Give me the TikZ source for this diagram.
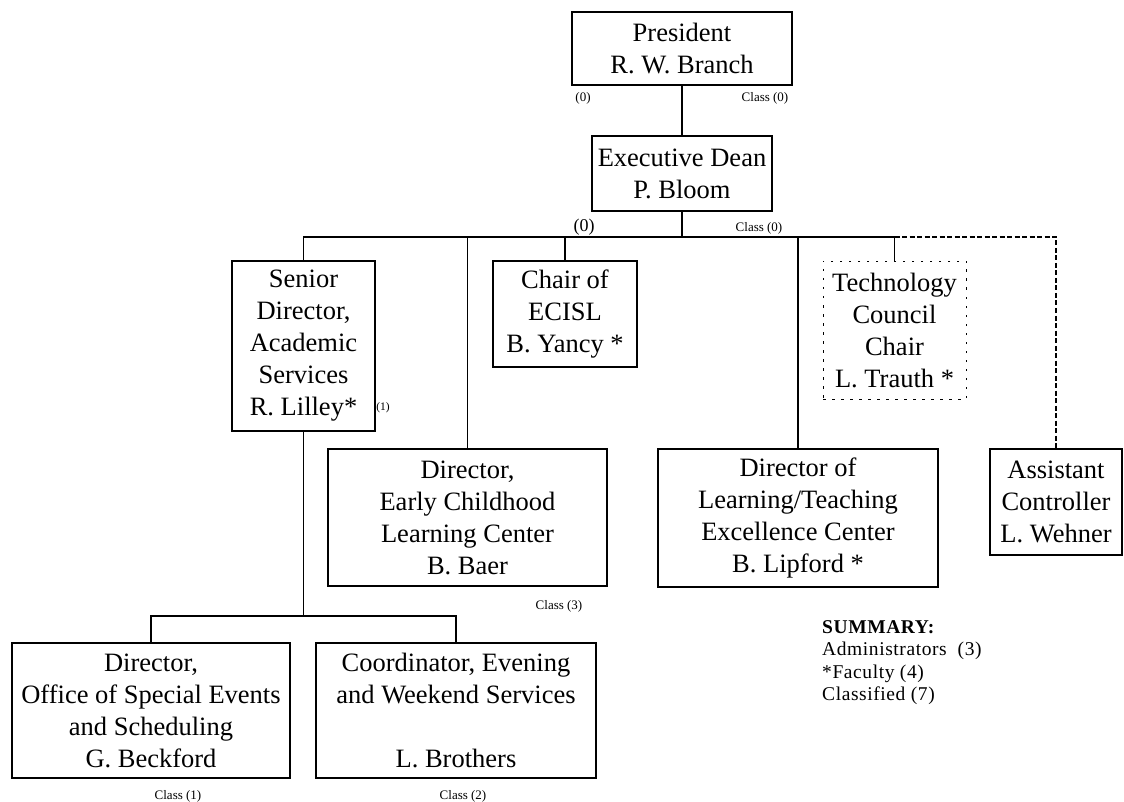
\documentclass[tikz,border=0pt]{standalone}
\usepackage{fontspec}
\setmainfont{Liberation Serif}
\newfontfamily\sumfont[LetterSpace=3]{Liberation Serif}
\usetikzlibrary{calc,positioning}
\tikzset{link/.style={line width=1.6pt},
  dashlink/.style={line width=1.6pt, dash pattern=on 5pt off 2.5pt},
  box/.style={draw, line width=1.6pt, align=center, inner sep=2pt, font=\fontsize{26.5}{32}\selectfont},
  dotbox/.style={box, line width=0.9pt, dash pattern=on 2.5pt off 6.5pt},
  cls/.style={inner sep=0pt, font=\fontsize{13}{15}\selectfont},
  sumtxt/.style={inner sep=0pt, align=left, font=\sumfont\fontsize{19.5}{22.5}\selectfont}}

\begin{document}
\begin{tikzpicture}[x=1pt, y=-1pt]
  \useasboundingbox (0,0) rectangle (1124,802);
  % top of the chart
  \node[box, minimum width=220, minimum height=73] (pres) at (682,48.5) {President\\R. W. Branch};
  \node[box, minimum width=180, minimum height=75] (exec) at (682,173.5) {Executive Dean\\P. Bloom};
  \node[cls] (p0) at (583,98) {(0)};
  \node[cls] (pc0) at (765,98) {Class (0)};
  \node[cls, font=\fontsize{18}{20}\selectfont] (e0) at (584,227) {(0)};
  \node[cls] (ec0) at (759,228) {Class (0)};
  % second row
  \node[box, minimum width=143, minimum height=170] (sdir) at (303.5,346) {Senior\\Director,\\Academic\\Services\\R. Lilley*};
  \node[box, minimum width=144, minimum height=106] (chair) at (565,314) {Chair of\\ECISL\\B. Yancy *};
  \node[dotbox, minimum width=143, minimum height=138] (tech) at (894.5,330) {Technology\\Council\\Chair\\L. Trauth *};
  \node[cls, font=\fontsize{11.5}{13}\selectfont] (s1) at (383,408) {(1)};
  % third row
  \node[box, minimum width=279, minimum height=137] (ecl) at (467.5,517.5) {Director,\\Early Childhood\\Learning Center\\B. Baer};
  \node[box, minimum width=280, minimum height=138] (dlt) at (798,518) {Director of\\Learning/Teaching\\Excellence Center\\B. Lipford *};
  \node[box, minimum width=132, minimum height=106] (asst) at (1056,502) {Assistant\\Controller\\L. Wehner};
  \node[cls] (ec3) at (559,606) {Class (3)};
  % bottom row
  \node[box, minimum width=278, minimum height=135] (ose) at (151,710.5) {Director,\\Office of Special Events\\and Scheduling\\G. Beckford};
  \node[box, minimum width=280, minimum height=135] (cws) at (456,710.5) {Coordinator, Evening\\and Weekend Services\\[32pt]L. Brothers};
  \node[cls] (oc1) at (178,796) {Class (1)};
  \node[cls] (cc2) at (463,796) {Class (2)};
  % summary
  \node[sumtxt, anchor=north west] (summ) at (822,620) {\textbf{SUMMARY:}\\Administrators~~(3)\\*Faculty (4)\\Classified (7)};
  % connectors
  \coordinate (bus) at (682,237);
  \coordinate (split) at (303,616);
  \draw[link] (pres) -- (exec);
  \draw[link] (exec.south) -- (bus);
  \draw[link] (sdir.north) -- (sdir.north |- bus) -| (tech.north);
  \foreach \n in {ecl,chair,dlt}
    \draw[link] (\n.north) -- (\n.north |- bus);
  \draw[dashlink] (tech.north |- bus) -| (asst.north);
  \draw[link] (sdir.south) -- (sdir.south |- split);
  \draw[link] (ose.north) -- (ose.north |- split) -| (cws.north);
\end{tikzpicture}
\end{document}
